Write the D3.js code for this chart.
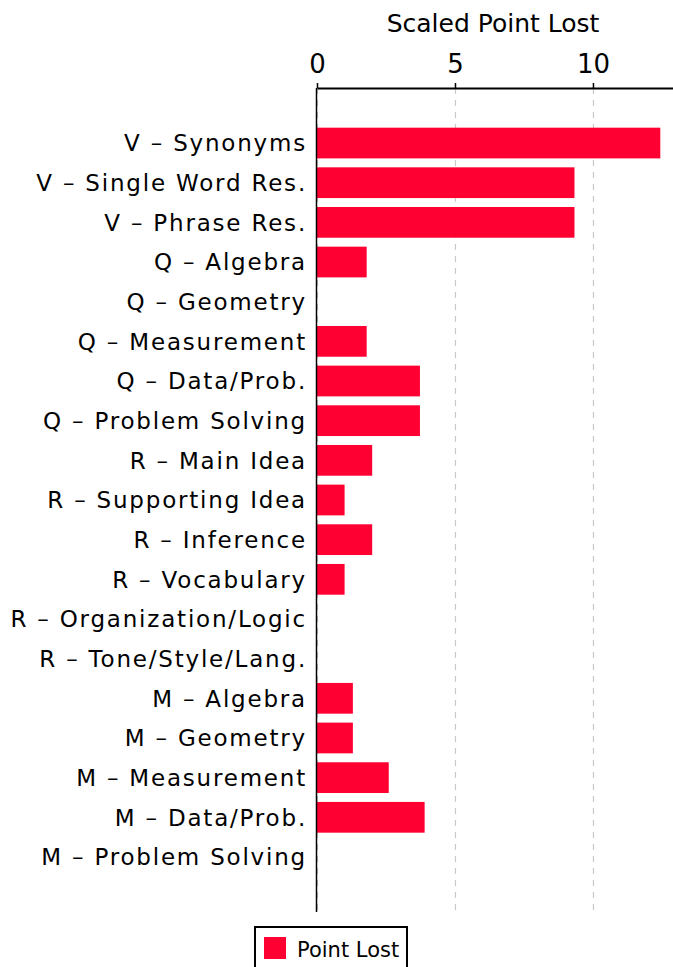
<!DOCTYPE html>
<html>
<head>
<meta charset="utf-8">
<script src="https://d3js.org/d3.v7.min.js"></script>
<style>
  body { margin: 0; background: #fff; }
  text { font-family: "DejaVu Sans", sans-serif; fill: #000; }
</style>
</head>
<body>
<div id="chart"></div>
<script>
var categories = [
    "V – Synonyms", "V – Single Word Res.", "V – Phrase Res.",
    "Q – Algebra", "Q – Geometry", "Q – Measurement", "Q – Data/Prob.", "Q – Problem Solving",
    "R – Main Idea", "R – Supporting Idea", "R – Inference", "R – Vocabulary",
    "R – Organization/Logic", "R – Tone/Style/Lang.",
    "M – Algebra", "M – Geometry", "M – Measurement", "M – Data/Prob.", "M – Problem Solving"
];
var pointLost = [12.44, 9.33, 9.33, 1.8, 0, 1.8, 3.73, 3.73, 2.0, 1.0, 2.0, 1.0, 0, 0, 1.3, 1.3, 2.6, 3.9, 0];
var xTicks = [0, 5, 10];
var seriesName = "Point Lost";
var axisTitle = "Scaled Point Lost";

var width = 673,
    height = 967,
    plotLeft = 317,
    plotRight = 673,
    plotTop = 88,
    plotBottom = 912;

var svg = d3.select("#chart").append("svg")
    .attr("width", width)
    .attr("height", height);

var x = d3.scaleLinear().domain([0, 12.9]).range([plotLeft, plotRight]);
var y = d3.scaleBand().domain(categories).range([plotTop, plotBottom])
    .paddingInner(0.225).paddingOuter(1.0);

// grid
svg.append("g").selectAll("line")
    .data(xTicks)
    .enter().append("line")
    .attr("x1", function(d) { return x(d) + 0.5; })
    .attr("x2", function(d) { return x(d) + 0.5; })
    .attr("y1", plotTop)
    .attr("y2", plotBottom)
    .attr("stroke", "#c8c8c8")
    .attr("stroke-width", 1.2)
    .attr("stroke-dasharray", "6,6");

// bars
svg.append("g").selectAll("rect")
    .data(pointLost)
    .enter().append("rect")
    .attr("x", x(0))
    .attr("y", function(d, i) { return y(categories[i]); })
    .attr("width", function(d) { return x(d) - x(0); })
    .attr("height", y.bandwidth())
    .attr("fill", "#ff0033");

// top axis
var xAxis = svg.append("g")
    .attr("transform", "translate(0," + plotTop + ")")
    .call(d3.axisTop(x).tickValues(xTicks).tickSize(5).tickSizeOuter(0).tickPadding(10));
xAxis.select(".domain").attr("stroke", "#000").attr("stroke-width", 2);
xAxis.selectAll(".tick line").attr("stroke", "#000").attr("stroke-width", 1.5);
xAxis.selectAll(".tick text")
    .attr("font-family", "DejaVu Sans, sans-serif")
    .attr("font-size", 26)
    .attr("fill", "#000");

svg.append("line")
    .attr("x1", plotLeft - 0.5).attr("x2", plotLeft - 0.5)
    .attr("y1", plotTop).attr("y2", plotBottom)
    .attr("stroke", "#000").attr("stroke-width", 1.5);

svg.append("text")
    .attr("x", (plotLeft + plotRight) / 2 - 2)
    .attr("y", 32)
    .attr("text-anchor", "middle")
    .attr("font-size", 25)
    .text(axisTitle);

// category labels
svg.append("g").selectAll("text")
    .data(categories)
    .enter().append("text")
    .attr("x", plotLeft - 10)
    .attr("y", function(d) { return y(d) + y.bandwidth() / 2; })
    .attr("dy", "0.36em")
    .attr("text-anchor", "end")
    .attr("font-size", 23)
    .attr("letter-spacing", 1.8)
    .text(function(d) { return d; });

// legend
var legend = svg.append("g").attr("transform", "translate(254,926)");
legend.append("rect")
    .attr("x", 1).attr("y", 1)
    .attr("width", 152).attr("height", 50)
    .attr("fill", "#fff")
    .attr("stroke", "#000").attr("stroke-width", 2);
legend.append("rect")
    .attr("x", 10).attr("y", 11)
    .attr("width", 22).attr("height", 22)
    .attr("fill", "#ff0033");
legend.append("text")
    .attr("x", 43).attr("y", 31)
    .attr("font-size", 21)
    .text(seriesName);
</script>
</body>
</html>
